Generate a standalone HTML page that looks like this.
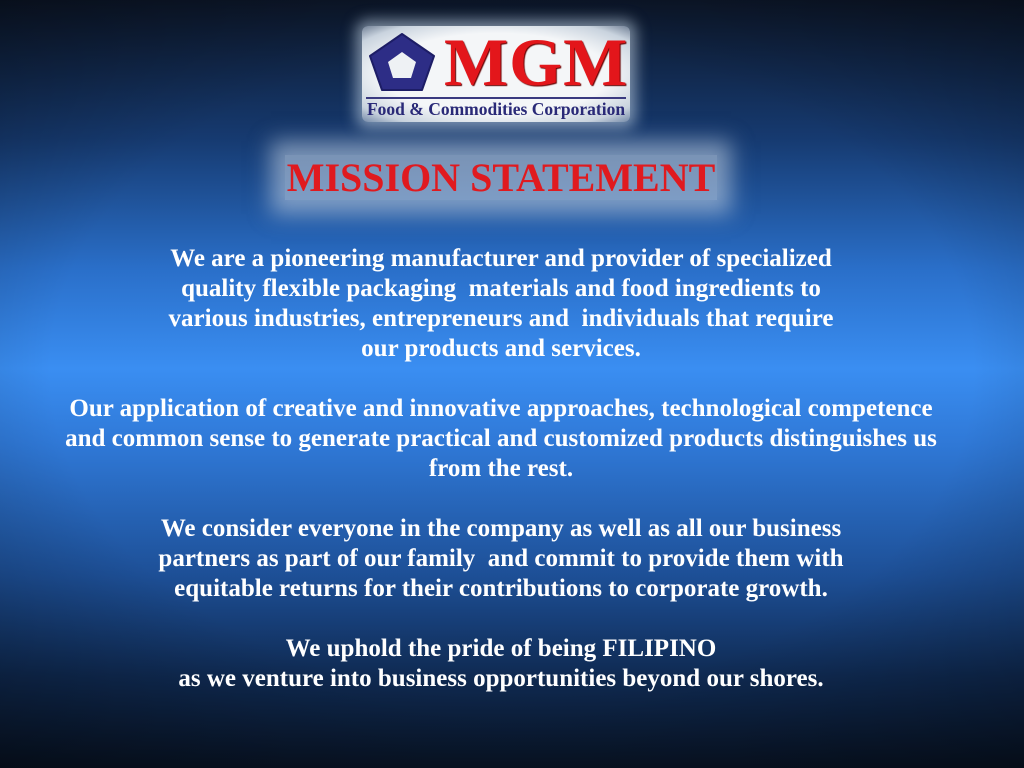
<!DOCTYPE html>
<html><head><meta charset="utf-8"><style>
html,body{margin:0;padding:0;}
body{width:1024px;height:768px;overflow:hidden;position:relative;font-family:"Liberation Serif",serif;
background:linear-gradient(180deg,#0c1628 0%,#163a70 18%,#2a6fc9 35%,#3a8ef2 48%,#2f78d6 58%,#1d4f96 75%,#0f2a52 88%,#081324 100%);}
.vig{position:absolute;inset:0;background:radial-gradient(ellipse 75% 70% at 50% 48%,rgba(0,0,0,0) 60%,rgba(0,0,0,0.35) 100%);}
.logo{position:absolute;left:362px;top:26px;width:268px;height:96px;background:radial-gradient(ellipse at 50% 50%,#f4f6f8 60%,#c9d3de 85%,rgba(180,195,215,0.6) 100%);box-shadow:0 0 14px 6px rgba(210,225,240,0.55);border-radius:6px;}
.mgm{position:absolute;left:82px;top:0px;font-size:68px;font-weight:bold;color:#e3161b;line-height:72px;text-shadow:1px 1px 1px #600;letter-spacing:1px;}
.rule{position:absolute;left:4px;right:4px;top:71px;height:2px;background:#3a3a80;}
.sub{position:absolute;left:0;right:0;top:73px;text-align:center;font-size:17.5px;font-weight:bold;color:#2a2a78;white-space:nowrap;}
.title{position:absolute;left:0;right:0;top:154px;text-align:center;font-size:40px;font-weight:bold;color:#e01a1f;margin-left:-22px;}
.title span{background:rgba(220,230,240,0.5);box-shadow:0 0 20px 14px rgba(220,230,240,0.5);padding:0 2px;}
.p{position:absolute;left:0;right:0;text-align:center;color:#fff;font-size:25px;font-weight:bold;line-height:30px;white-space:nowrap;margin-left:-22px;}
</style></head><body>
<div class="vig"></div>
<div class="logo">
<svg style="position:absolute;left:6px;top:6px" width="68" height="60" viewBox="0 0 68 60">
<path d="M34 2 L66 24 L54 58 L14 58 L2 24 Z" fill="#2d2d86" stroke="#1d1d66" stroke-width="2" stroke-linejoin="round"/>
<path d="M34 20 L48 30 L43 46 L25 46 L20 30 Z" fill="#eef1f4"/>
</svg>
<div class="mgm">MGM</div>
<div class="rule"></div>
<div class="sub">Food &amp; Commodities Corporation</div>
</div>
<div class="title"><span>MISSION STATEMENT</span></div>
<div class="p" style="top:244px">We are a pioneering manufacturer and provider of specialized<br>quality flexible packaging&nbsp; materials and food ingredients to<br>various industries, entrepreneurs and&nbsp; individuals that require<br>our products and services.</div>
<div class="p" style="top:394px">Our application of creative and innovative approaches, technological competence<br>and common sense to generate practical and customized products distinguishes us<br>from the rest.</div>
<div class="p" style="top:514px">We consider everyone in the company as well as all our business<br>partners as part of our family&nbsp; and commit to provide them with<br>equitable returns for their contributions to corporate growth.</div>
<div class="p" style="top:634px">We uphold the pride of being FILIPINO<br>as we venture into business opportunities beyond our shores.</div>
</body></html>
